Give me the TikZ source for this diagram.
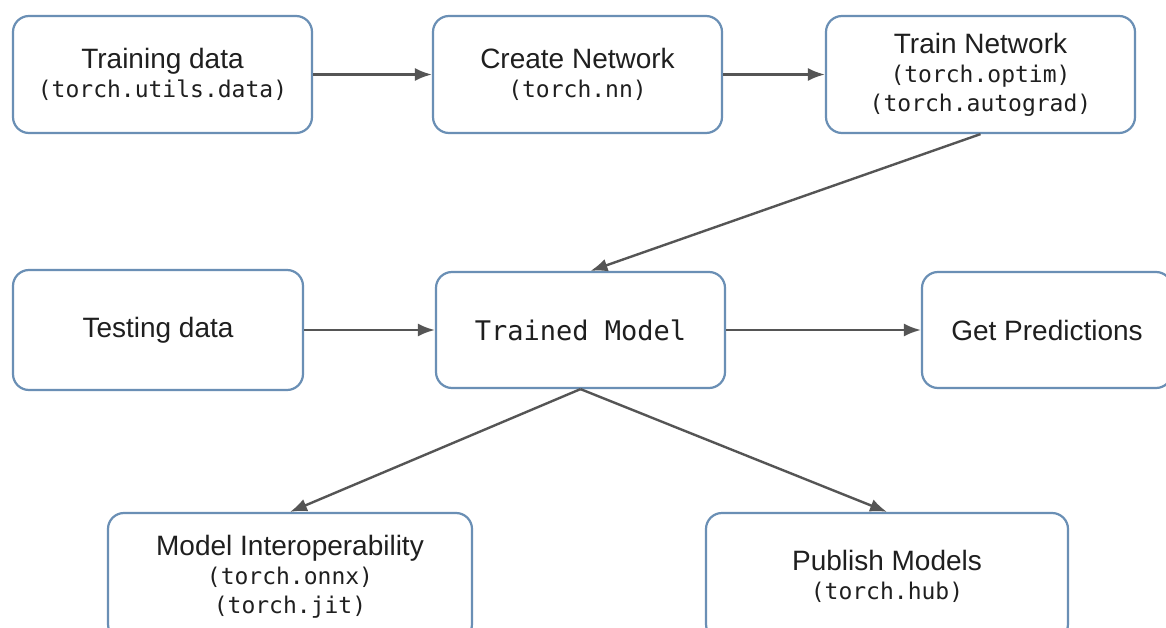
\documentclass[tikz,border=0pt]{standalone}
\usepackage{fontspec}
\setmainfont{Liberation Sans}
\setmonofont{DejaVu Sans Mono}
\usetikzlibrary{arrows.meta}
\definecolor{boxline}{HTML}{6A8FB5}
\definecolor{arrowc}{HTML}{555555}
\newcommand\mcode[1]{{\fontsize{23}{29}\selectfont\ttfamily #1}}
\begin{document}
\begin{tikzpicture}[x=1pt,y=-1pt,
  box/.style={draw=boxline, line width=2.2pt, rounded corners=16pt, fill=white,
    align=center, inner sep=0pt, text=black!88,
    font=\fontsize{28}{29}\selectfont},
  arr/.style={draw=arrowc, line width=2.4pt, -{Latex[length=17pt,width=13pt]}}]
\useasboundingbox[fill=white] (0,0) rectangle (1166,628);
\node[box, minimum width=299pt, minimum height=117pt] (a) at (162.5,74.5)
  {Training data\\\mcode{(torch.utils.data)}};
\node[box, minimum width=289pt, minimum height=117pt] (b) at (577.5,74.5)
  {Create Network\\\mcode{(torch.nn)}};
\node[box, minimum width=309pt, minimum height=117pt] (c) at (980.5,74.5)
  {Train Network\\\mcode{(torch.optim)}\\\mcode{(torch.autograd)}};
\node[box, minimum width=290pt, minimum height=120pt] (d) at (158,330)
  {Testing data};
\node[box, minimum width=289pt, minimum height=116pt] (e) at (580.5,330)
  {{\fontsize{27}{29}\selectfont\ttfamily Trained Model}};
\node[box, minimum width=250pt, minimum height=116pt] (f) at (1047,330)
  {Get Predictions};
\node[box, minimum width=364pt, minimum height=127pt] (g) at (290,576.5)
  {Model Interoperability\\\mcode{(torch.onnx)}\\\mcode{(torch.jit)}};
\node[box, minimum width=362pt, minimum height=127pt] (h) at (887,576.5)
  {Publish Models\\\mcode{(torch.hub)}};
\draw[arr] (a.east) -- (b.west);
\draw[arr] (b.east) -- (c.west);
\draw[arr] (c.south) -- ([xshift=10pt]e.north);
\draw[arr] (d.east) -- (e.west);
\draw[arr] (e.east) -- (f.west);
\draw[arr] (e.south) -- (g.north);
\draw[arr] (e.south) -- (h.north);
\end{tikzpicture}
\end{document}
